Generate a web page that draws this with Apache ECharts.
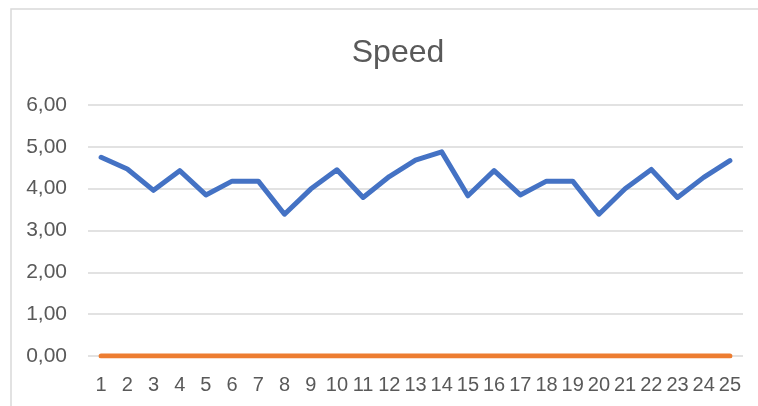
<!DOCTYPE html>
<html>
<head>
<meta charset="utf-8">
<script src="https://cdn.jsdelivr.net/npm/echarts@6/dist/echarts.min.js"></script>
<style>
html,body{margin:0;padding:0;background:#fff;}
#chart{width:758px;height:406px;}
</style>
</head>
<body>
<div id="chart"></div>
<script>
const categories = ['1','2','3','4','5','6','7','8','9','10','11','12','13','14','15','16','17','18','19','20','21','22','23','24','25'];
const speedValues = [4.75, 4.47, 3.96, 4.43, 3.85, 4.18, 4.18, 3.39, 3.99, 4.45, 3.79, 4.29, 4.68, 4.88, 3.83, 4.43, 3.85, 4.18, 4.18, 3.39, 4.0, 4.46, 3.79, 4.27, 4.67];
const zeroValues = [0,0,0,0,0,0,0,0,0,0,0,0,0,0,0,0,0,0,0,0,0,0,0,0,0];
const yTicks = { min: 0, max: 6, interval: 1 };

const FONT = "'Liberation Sans Narrow', 'Arial Narrow', 'Liberation Sans', sans-serif";
const chart = echarts.init(document.getElementById('chart'), null, { renderer: 'canvas' });
chart.setOption({
  animation: false,
  backgroundColor: '#ffffff',
  title: {
    text: 'Speed',
    left: 393,
    textAlign: 'center',
    top: 32,
    textStyle: { fontFamily: FONT, fontSize: 32, fontWeight: 'normal', color: '#595959' }
  },
  graphic: [{
    type: 'rect',
    shape: { x: 11, y: 9, width: 900, height: 600 },
    style: { fill: 'none', stroke: '#d9d9d9', lineWidth: 1.5 },
    silent: true
  }],
  grid: { left: 88, right: 15, top: 105, bottom: 50, containLabel: false },
  xAxis: {
    type: 'category',
    data: categories,
    boundaryGap: true,
    axisLine: { show: false },
    axisTick: { show: false },
    axisLabel: { fontFamily: FONT, fontSize: 20, color: '#595959', margin: 19, interval: 0 }
  },
  yAxis: {
    type: 'value',
    min: yTicks.min, max: yTicks.max, interval: yTicks.interval,
    axisLine: { show: false },
    axisTick: { show: false },
    splitLine: { lineStyle: { color: '#d9d9d9', width: 1.5 } },
    axisLabel: {
      fontFamily: FONT, fontSize: 21, color: '#595959', margin: 21,
      formatter: v => v.toFixed(2).replace('.', ',')
    }
  },
  series: [
    {
      name: 'Speed', type: 'line', data: speedValues, showSymbol: false, symbol: 'none',
      lineStyle: { color: '#4472C4', width: 5, cap: 'round', join: 'round' }
    },
    {
      name: 'Zero', type: 'line', data: zeroValues, showSymbol: false, symbol: 'none',
      lineStyle: { color: '#ED7D31', width: 5, cap: 'round', join: 'round' }
    }
  ]
});
</script>
</body>
</html>
